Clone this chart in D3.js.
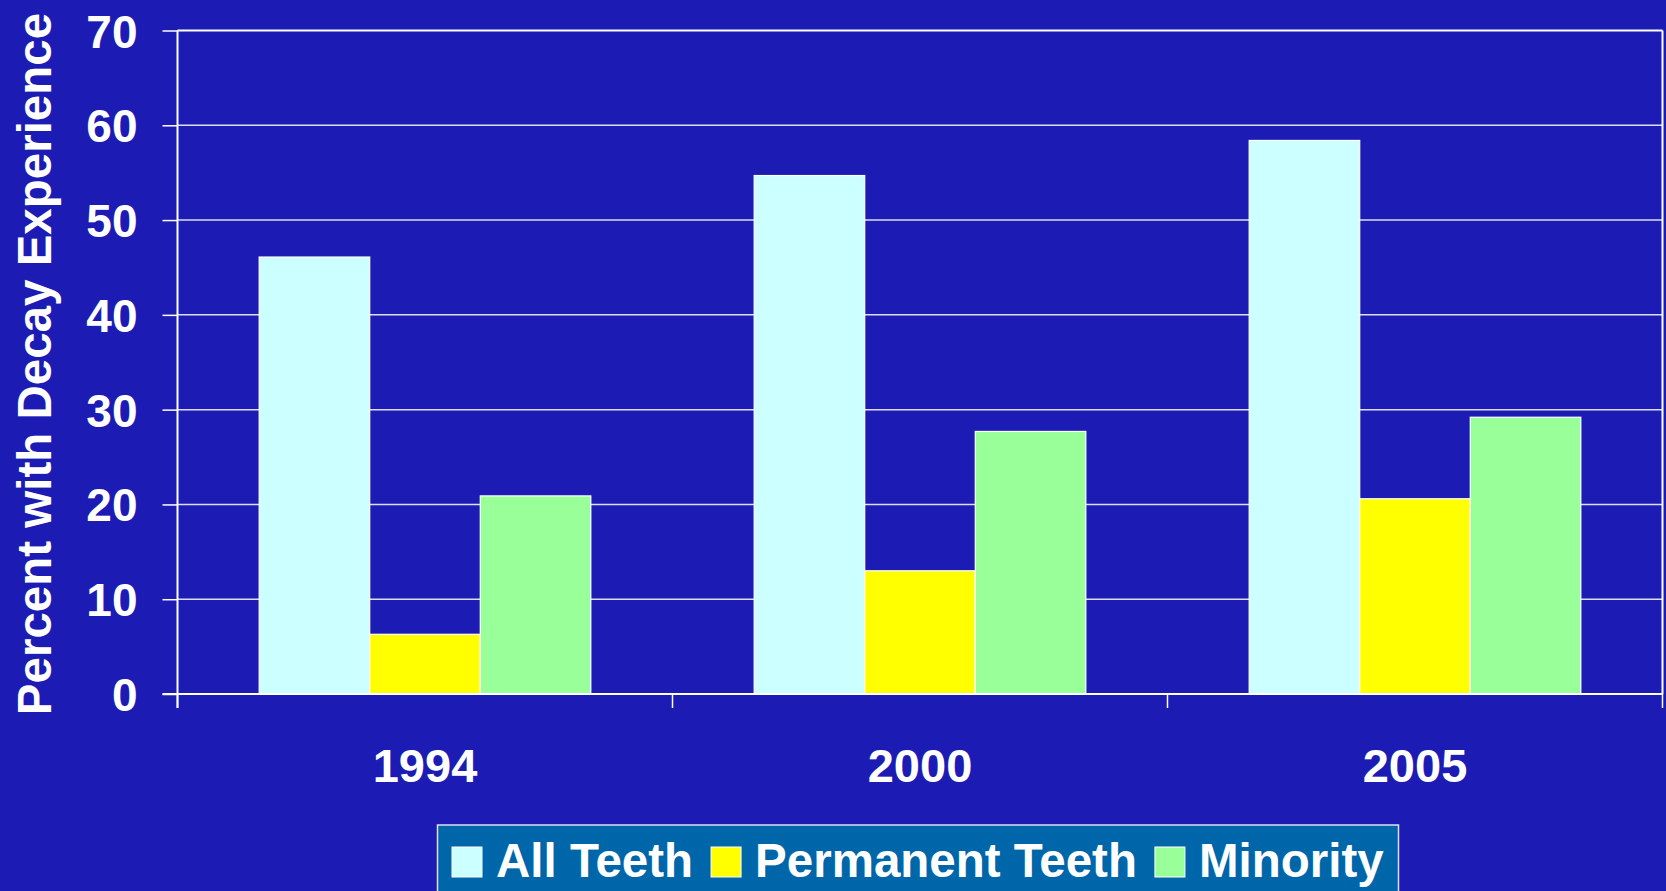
<!DOCTYPE html>
<html>
<head>
<meta charset="utf-8">
<script src="https://cdn.jsdelivr.net/npm/d3@7"></script>
<style>
  html, body { margin: 0; padding: 0; background: #1C1CB4; overflow: hidden; }
  svg { display: block; }
  text { font-family: "Liberation Sans", Arial, sans-serif; font-weight: bold; fill: #fff; }
</style>
</head>
<body>
<svg id="chart" width="1666" height="891"></svg>
<script>
const categories = ["1994", "2000", "2005"];
const seriesNames = ["All Teeth", "Permanent Teeth", "Minority"];
const allTeeth = [46.1, 54.7, 58.4];
const permanentTeeth = [6.3, 13.0, 20.6];
const minority = [20.9, 27.7, 29.2];
const yTicks = [0, 10, 20, 30, 40, 50, 60, 70];
const seriesColors = ["#CCFFFF", "#FFFF00", "#99FF99"];
const yLabel = "Percent with Decay Experience";

const seriesValues = [allTeeth, permanentTeeth, minority];
const rows = categories.map((c, i) => ({
  cat: c,
  vals: seriesNames.map((s, j) => ({ key: s, value: seriesValues[j][i], color: seriesColors[j] }))
}));

const W = 1666, H = 891;
const plot = { left: 177.5, right: 1662.5, top: 30.5, bottom: 694 };
const svg = d3.select("#chart");

svg.append("rect").attr("width", W).attr("height", H).attr("fill", "#1C1CB4");

const y = d3.scaleLinear().domain([0, 70]).range([plot.bottom, plot.top]);
const x0 = d3.scaleBand().domain(categories).range([plot.left, plot.right])
  .paddingInner(0.33).paddingOuter(0.165);
const x1 = d3.scaleBand().domain(seriesNames).range([0, x0.bandwidth()]);

// gridlines
svg.append("g").selectAll("line").data(yTicks.filter(d => d > 0)).join("line")
  .attr("x1", plot.left).attr("x2", plot.right)
  .attr("y1", d => y(d)).attr("y2", d => y(d))
  .attr("stroke", "#fff").attr("stroke-width", d => d === 70 ? 2 : 1.5)
  .attr("stroke-opacity", d => d === 70 ? 1 : 0.85);

// right border
svg.append("line").attr("x1", plot.right).attr("x2", plot.right)
  .attr("y1", y(70)).attr("y2", y(0)).attr("stroke", "#fff").attr("stroke-width", 2);

// bars
const groups = svg.append("g").selectAll("g").data(rows).join("g")
  .attr("transform", d => `translate(${x0(d.cat)},0)`);
groups.selectAll("rect").data(d => d.vals).join("rect")
  .attr("x", d => x1(d.key)).attr("width", x1.bandwidth())
  .attr("y", d => y(d.value)).attr("height", d => y(0) - y(d.value))
  .attr("fill", d => d.color).attr("stroke", "#fff").attr("stroke-width", 1.2);

// y axis
const yAxis = svg.append("g").attr("transform", `translate(${plot.left},0)`)
  .call(d3.axisLeft(y).tickValues(yTicks).tickSize(15).tickPadding(25).tickFormat(d3.format("d")));
yAxis.select(".domain").attr("stroke", "#fff").attr("stroke-width", 2)
  .attr("d", `M0,${y(70)}V${y(0) + 14}`);
yAxis.selectAll(".tick line").attr("stroke", "#fff").attr("stroke-width", 1.5);
yAxis.selectAll(".tick text").attr("fill", "#fff").style("font-size", "46px")
  .style("font-family", "'Liberation Sans', Arial, sans-serif").style("font-weight", "bold")
  .attr("dy", "0.36em");

// x axis
const xAxis = svg.append("g").attr("transform", `translate(0,${plot.bottom})`)
  .call(d3.axisBottom(x0).tickSize(0).tickPadding(55));
xAxis.select(".domain").attr("stroke", "#fff").attr("stroke-width", 2)
  .attr("d", `M${plot.left - 15},0H${plot.right}`);
xAxis.selectAll(".tick text").attr("fill", "#fff").style("font-size", "47px")
  .style("font-family", "'Liberation Sans', Arial, sans-serif").style("font-weight", "bold");
const boundaries = categories.map(c => x0(c) - x0.step() * x0.paddingOuter())
  .concat([x0(categories[categories.length - 1]) - x0.step() * x0.paddingOuter() + x0.step()]);
xAxis.append("g").selectAll("line").data(boundaries).join("line")
  .attr("x1", d => d).attr("x2", d => d).attr("y1", 0).attr("y2", 14)
  .attr("stroke", "#fff").attr("stroke-width", 1.5);

// y label
svg.append("text").attr("transform", "translate(51,364) rotate(-90)")
  .attr("text-anchor", "middle").style("font-size", "47.5px").text(yLabel);

// legend
const legend = svg.append("g");
legend.append("rect").attr("x", 437.5).attr("y", 825).attr("width", 961).attr("height", 80)
  .attr("fill", "#0066AA").attr("stroke", "#E0E0F0").attr("stroke-width", 1.5);
let lx = 452;
seriesNames.forEach((s, i) => {
  legend.append("rect").attr("x", lx).attr("y", 847).attr("width", 30).attr("height", 30)
    .attr("fill", seriesColors[i]).attr("stroke", "#fff").attr("stroke-width", 1);
  const t = legend.append("text").attr("x", lx + 44).attr("y", 877)
    .style("font-size", "47.5px").text(s);
  lx = lx + 44 + t.node().getComputedTextLength() + 18;
});
</script>
</body>
</html>
